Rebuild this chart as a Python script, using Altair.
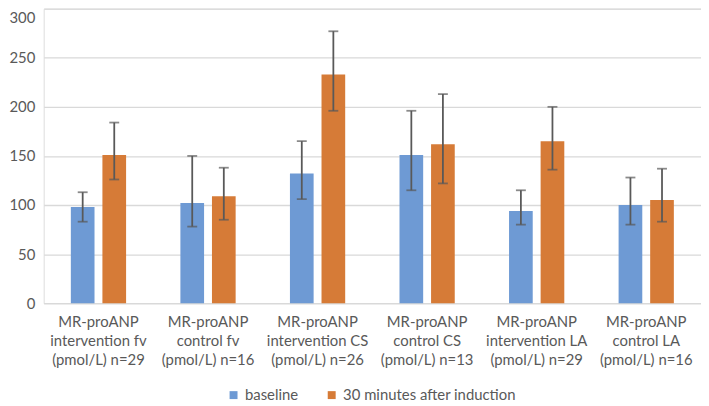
import altair as alt
import pandas as pd

groups = [
    "MR-proANP|intervention fv|(pmol/L) n=29",
    "MR-proANP|control fv|(pmol/L) n=16",
    "MR-proANP|intervention CS|(pmol/L) n=26",
    "MR-proANP|control CS|(pmol/L) n=13",
    "MR-proANP|intervention LA|(pmol/L) n=29",
    "MR-proANP|control LA|(pmol/L) n=16",
]
series = ["baseline", "30 minutes after induction"]
colors = ["#6E9AD4", "#D67B37"]

baseline = [98, 102, 132, 151, 94, 100]
baseline_lo = [83, 78, 106, 115, 80, 80]
baseline_hi = [113, 150, 165, 196, 115, 128]

after = [151, 109, 233, 162, 165, 105]
after_lo = [126, 85, 196, 122, 136, 83]
after_hi = [184, 138, 277, 213, 200, 137]

y_ticks = [0, 50, 100, 150, 200, 250, 300]

rows = []
for i, g in enumerate(groups):
    rows.append({"group": g, "series": series[0], "value": baseline[i],
                 "lo": baseline_lo[i], "hi": baseline_hi[i]})
    rows.append({"group": g, "series": series[1], "value": after[i],
                 "lo": after_lo[i], "hi": after_hi[i]})
df = pd.DataFrame(rows)

FONT = "Lato"
TEXT = "#595959"
GRID = "#D9D9D9"
ERR = "#595959"

x_enc = alt.X(
    "group:N",
    sort=groups,
    title=None,
    scale=alt.Scale(paddingInner=0, paddingOuter=0),
    axis=alt.Axis(
        labelAngle=0,
        labelExpr="split(datum.label, '|')",
        labelLineHeight=19,
        labelFontSize=15,
        labelFont=FONT,
        labelColor=TEXT,
        labelPadding=12,
        ticks=False,
        domainColor=GRID,
        domainWidth=1.3,
        grid=False,
    ),
)
xo_enc = alt.XOffset(
    "series:N",
    sort=series,
    scale=alt.Scale(domain=series, paddingInner=0.25, paddingOuter=0.86),
)
y_scale = alt.Scale(domain=[0, 300], nice=False)

base = alt.Chart(df)

bars = base.mark_bar().encode(
    x=x_enc,
    xOffset=xo_enc,
    y=alt.Y(
        "value:Q",
        scale=y_scale,
        title=None,
        axis=alt.Axis(
            values=y_ticks,
            labelFontSize=15,
            labelFont=FONT,
            labelColor=TEXT,
            labelPadding=9,
            labelOffset={"condition": {"test": "datum.value == 300", "value": 9}, "value": 0},
            ticks=False,
            domain=False,
            gridColor=GRID,
            gridWidth=1.3,
        ),
    ),
    color=alt.Color(
        "series:N",
        sort=series,
        scale=alt.Scale(domain=series, range=colors),
        legend=alt.Legend(
            title=None,
            orient="none",
            direction="horizontal",
            legendX=184,
            legendY=382,
            symbolType="square",
            symbolSize=64,
            symbolStrokeWidth=0,
            labelFontSize=15,
            labelFont=FONT,
            labelColor=TEXT,
            labelOffset=4,
            labelLimit=400,
            columnPadding=26,
        ),
    ),
)

err = base.mark_rule(color=ERR, strokeWidth=1.8).encode(
    x=alt.X("group:N", sort=groups),
    xOffset=alt.XOffset("series:N", sort=series),
    y=alt.Y("lo:Q", scale=y_scale),
    y2="hi:Q",
)
cap_lo = base.mark_tick(color=ERR, orient="horizontal", size=10, thickness=1.8).encode(
    x=alt.X("group:N", sort=groups),
    xOffset=alt.XOffset("series:N", sort=series),
    y=alt.Y("lo:Q", scale=y_scale),
)
cap_hi = base.mark_tick(color=ERR, orient="horizontal", size=10, thickness=1.8).encode(
    x=alt.X("group:N", sort=groups),
    xOffset=alt.XOffset("series:N", sort=series),
    y=alt.Y("hi:Q", scale=y_scale),
)

chart = alt.layer(bars, err, cap_lo, cap_hi).properties(
    width=663,
    height=297,
    autosize=alt.AutoSizeParams(type="none"),
    padding={"left": 36, "top": -1, "right": 0, "bottom": 100},
).configure_view(stroke=None).configure(background="white")

chart.save("out.html", embed_options={"renderer": "svg", "actions": False})
